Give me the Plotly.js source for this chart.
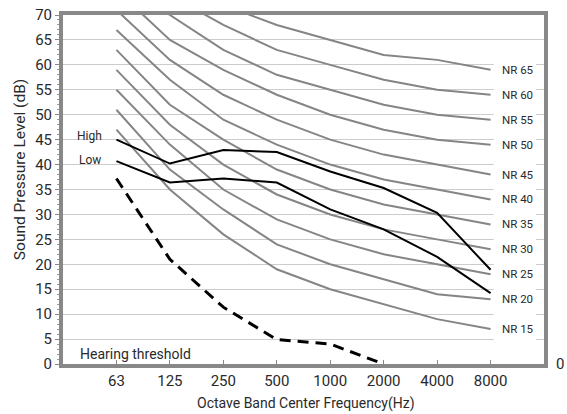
<!DOCTYPE html>
<html>
<head>
<meta charset="utf-8">
<script src="https://cdn.plot.ly/plotly-3.0.1.min.js"></script>
<style>html,body{margin:0;padding:0;background:#fff;}#chart{width:567px;height:414px;}</style>
</head>
<body>
<div id="chart"></div>
<script>
const freqs = ["63", "125", "250", "500", "1000", "2000", "4000", "8000"];
const nrNames = ["NR 15", "NR 20", "NR 25", "NR 30", "NR 35", "NR 40", "NR 45", "NR 50", "NR 55", "NR 60", "NR 65"];
const nr15 = [47, 35, 26, 19, 15, 12, 9, 7];
const nr20 = [51, 39, 31, 24, 20, 17, 14, 13];
const nr25 = [55, 44, 35, 29, 25, 22, 20, 18];
const nr30 = [59, 48, 40, 34, 30, 27, 25, 23];
const nr35 = [63, 52, 45, 39, 35, 32, 30, 28];
const nr40 = [67, 57, 49, 44, 40, 37, 35, 33];
const nr45 = [71, 61, 54, 49, 45, 42, 40, 38];
const nr50 = [75, 65, 59, 54, 50, 47, 45, 44];
const nr55 = [79, 70, 63, 58, 55, 52, 50, 49];
const nr60 = [83, 74, 68, 63, 60, 57, 55, 54];
const nr65 = [87, 78, 72, 68, 65, 62, 61, 59];
const high = [45, 40.2, 42.9, 42.5, 38.6, 35.3, 30.3, 18.9];
const low = [40.7, 36.4, 37.2, 36.4, 31, 27, 21.5, 14.2];
const hearing = [37.2, 21, 11.4, 4.9, 4.0, 0];
const hearingFreqs = ["63", "125", "250", "500", "1000", "2000"];
const xTitle = 'Octave Band Center Frequency(Hz)';
const yTitle = 'Sound Pressure Level (dB)';

const nrSeries = [nr15, nr20, nr25, nr30, nr35, nr40, nr45, nr50, nr55, nr60, nr65];
const FONT = "Roboto, 'Noto Sans', sans-serif";
const TXT = '#2a2a2a';
const idx = f => freqs.indexOf(f);
const xs = freqs.map((f, i) => i);

const traces = [];
nrSeries.forEach((s, k) => {
  traces.push({x: xs, y: s, type: 'scatter', mode: 'lines', name: nrNames[k],
    line: {color: '#858585', width: 2}, hoverinfo: 'skip'});
});
traces.push({x: xs, y: high, type: 'scatter', mode: 'lines', name: 'High', line: {color: '#000', width: 2}});
traces.push({x: xs, y: low, type: 'scatter', mode: 'lines', name: 'Low', line: {color: '#000', width: 2}});
traces.push({x: hearingFreqs.map(idx), y: hearing, type: 'scatter', mode: 'lines', name: 'Hearing threshold',
  line: {color: '#000', width: 3, dash: '11px,7px'}});

const annotations = nrNames.map((n, k) => ({
  x: 7.18, y: nrSeries[k][7], xref: 'x', yref: 'y', text: n, showarrow: false,
  xanchor: 'left', yanchor: 'middle', font: {family: FONT, size: 11.5, color: TXT}
}));
annotations.push({x: -0.24, y: 45.7, xref: 'x', yref: 'y', text: 'High', showarrow: false,
  xanchor: 'right', yanchor: 'middle', font: {family: FONT, size: 12, color: TXT}});
annotations.push({x: -0.26, y: 40.9, xref: 'x', yref: 'y', text: 'Low', showarrow: false,
  xanchor: 'right', yanchor: 'middle', font: {family: FONT, size: 12, color: TXT}});
annotations.push({x: -0.72, y: 0.1, xref: 'x', yref: 'y', text: 'Hearing threshold', showarrow: false,
  xanchor: 'left', yanchor: 'bottom', font: {family: FONT, size: 14, color: TXT}});
annotations.push({x: 1, y: 0, xref: 'paper', yref: 'y', text: '0', showarrow: false,
  xanchor: 'left', yanchor: 'middle', xshift: 10, font: {family: FONT, size: 15, color: TXT}});
annotations.push({x: 0.505, y: -0.114, xref: 'paper', yref: 'paper', text: xTitle, showarrow: false,
  xanchor: 'center', yanchor: 'middle', font: {family: FONT, size: 14, color: TXT}});
annotations.push({x: -0.089, y: 0.556, xref: 'paper', yref: 'paper', text: yTitle, showarrow: false,
  textangle: -90, xanchor: 'center', yanchor: 'middle', font: {family: FONT, size: 15.5, color: TXT}});

const layout = {
  width: 567, height: 414,
  margin: {l: 63, r: 23, t: 15, b: 50},
  paper_bgcolor: '#fff', plot_bgcolor: '#fff',
  showlegend: false,
  font: {family: FONT, color: TXT},
  xaxis: {
    range: [-1, 8], tickmode: 'array', tickvals: xs, ticktext: freqs,
    showgrid: false, zeroline: false,
    showline: true, linecolor: '#888', linewidth: 4, mirror: true,
    ticks: 'inside', ticklen: 4, tickcolor: '#888', tickwidth: 1,
    tickfont: {family: FONT, size: 15, color: TXT}
  },
  yaxis: {
    range: [0, 70], dtick: 5, tick0: 0,
    showgrid: true, gridcolor: '#cccccc', gridwidth: 1, zeroline: false,
    showline: true, linecolor: '#888', linewidth: 4, mirror: true,
    ticks: 'outside', ticklen: 4, tickcolor: '#888', tickwidth: 1,
    minor: {ticks: 'outside', ticklen: 2, tickcolor: '#999', dtick: 1, showgrid: false},
    tickfont: {family: FONT, size: 15, color: TXT}
  },
  shapes: [{type: 'rect', xref: 'x', yref: 'y', x0: 7.06, x1: 7.85, y0: 0.4, y1: 63.5,
    fillcolor: '#fff', line: {width: 0}, layer: 'between'}],
  annotations: annotations
};

Plotly.newPlot('chart', traces, layout, {displayModeBar: false, staticPlot: true});
</script>
</body>
</html>
